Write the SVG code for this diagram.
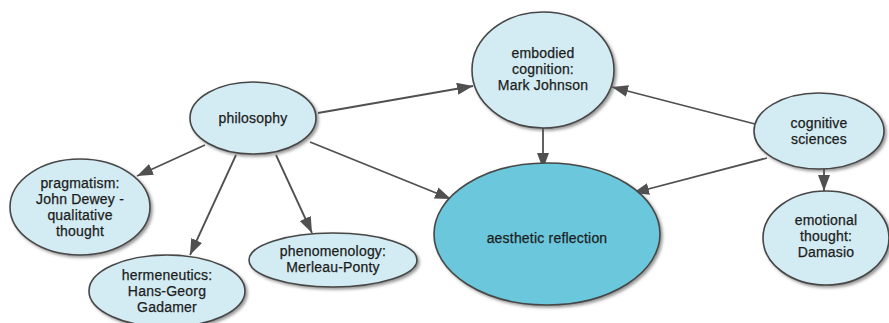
<svg xmlns="http://www.w3.org/2000/svg" width="889" height="323" viewBox="0 0 889 323">
<style>
.n{fill:#d3ecf3;stroke:#474747;stroke-width:1.6;filter:url(#sh)}
.m{fill:#6ac7dc;stroke:#474747;stroke-width:1.6;filter:url(#sh)}
.t{font-family:"Liberation Sans",Arial,sans-serif;font-size:14px;fill:#1c1c1c;text-anchor:middle;stroke:#1c1c1c;stroke-width:0.25;letter-spacing:0.2px}
.e{stroke:#505050;stroke-width:1.8;fill:none;marker-end:url(#ah)}
</style>
<defs>
<filter id="sh" x="-20%" y="-20%" width="140%" height="140%">
<feDropShadow dx="2" dy="2" stdDeviation="1.5" flood-color="#555" flood-opacity="0.6"/>
</filter>
<marker id="ah" viewBox="0 0 16 12" refX="16" refY="6" markerWidth="16" markerHeight="12" markerUnits="userSpaceOnUse" orient="auto">
<path d="M0,0 L16,6 L0,12 Z" fill="#505050"/>
</marker>
</defs>
<g id="connectors">
<line class="e" x1="318" y1="113" x2="473" y2="86"/>
<line class="e" x1="205" y1="145" x2="137" y2="176"/>
<line class="e" x1="236" y1="155" x2="190" y2="255"/>
<line class="e" x1="276" y1="155" x2="312" y2="233"/>
<line class="e" x1="310" y1="142" x2="451" y2="199"/>
<line class="e" x1="543" y1="128" x2="543" y2="169"/>
<line class="e" x1="755" y1="124" x2="612" y2="87"/>
<line class="e" x1="767" y1="158" x2="633" y2="193"/>
<line class="e" x1="824" y1="169" x2="824" y2="191"/>
</g>
<g id="philosophy">
<ellipse class="n" cx="253" cy="118" rx="63" ry="36"/>
<text class="t" x="253" y="123">philosophy</text>
</g>
<g id="pragmatism">
<ellipse class="n" cx="80" cy="207" rx="70" ry="48"/>
<text class="t" x="80" y="188">pragmatism:</text>
<text class="t" x="80" y="204">John Dewey -</text>
<text class="t" x="80" y="220">qualitative</text>
<text class="t" x="80" y="236">thought</text>
</g>
<g id="hermeneutics">
<ellipse class="n" cx="167" cy="291" rx="78" ry="36"/>
<text class="t" x="167" y="280">hermeneutics:</text>
<text class="t" x="167" y="296">Hans-Georg</text>
<text class="t" x="167" y="312">Gadamer</text>
</g>
<g id="phenomenology">
<ellipse class="n" cx="333" cy="260" rx="84" ry="27"/>
<text class="t" x="333" y="256">phenomenology:</text>
<text class="t" x="333" y="272">Merleau-Ponty</text>
</g>
<g id="embodied">
<ellipse class="n" cx="543" cy="70" rx="71" ry="58"/>
<text class="t" x="543" y="58">embodied</text>
<text class="t" x="543" y="74">cognition:</text>
<text class="t" x="543" y="90">Mark Johnson</text>
</g>
<g id="aesthetic">
<ellipse class="m" cx="547" cy="234" rx="113" ry="71"/>
<text class="t" x="547" y="243">aesthetic reflection</text>
</g>
<g id="cognitive">
<ellipse class="n" cx="819" cy="131" rx="65" ry="38"/>
<text class="t" x="819" y="128">cognitive</text>
<text class="t" x="819" y="144">sciences</text>
</g>
<g id="emotional">
<ellipse class="n" cx="826" cy="238" rx="63" ry="47"/>
<text class="t" x="826" y="225">emotional</text>
<text class="t" x="826" y="241">thought:</text>
<text class="t" x="826" y="257">Damasio</text>
</g>
</svg>
